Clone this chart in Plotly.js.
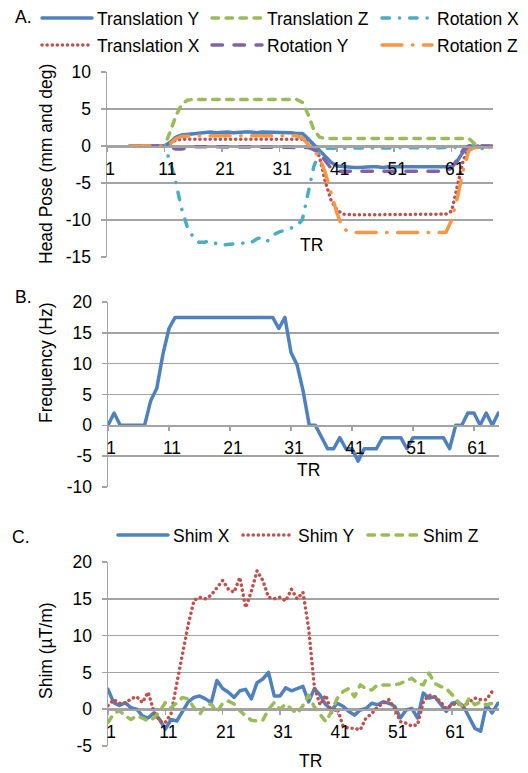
<!DOCTYPE html>
<html><head><meta charset="utf-8">
<script src="https://cdn.plot.ly/plotly-3.0.1.min.js"></script>
<style>html,body{margin:0;padding:0;background:#fff;} #chart{width:528px;height:773px;}
#chart path.js-line{stroke-linecap:round;stroke-linejoin:round;}</style>
</head><body><div id="chart"></div>
<script>
// ---------- data ----------
const TR = [1,2,3,4,5,6,7,8,9,10,11,12,13,14,15,16,17,18,19,20,21,22,23,24,25,26,27,28,29,30,
  31,32,33,34,35,36,37,38,39,40,41,42,43,44,45,46,47,48,49,50,51,52,53,54,55,56,57,58,59,60,
  61,62,63,64,65,66,67,68,69];
const tickTR = [1,11,21,31,41,51,61];
const tickLabels = ['1','11','21','31','41','51','61'];

// Panel A: head pose (TR 1..68)
const translationY = [null,null,null,null, 0,0,0,0,0,0,0,
  0.5,1.2,1.5,1.6,1.7,1.8,1.8,1.9,1.8,1.9,1.9,1.8,1.9,1.9,1.9,1.8,1.9,1.9,1.8,1.8,1.8,1.8,1.7,1.7,
  1.0,0.2,-0.6,-1.3,-2.2,-2.7,
  -2.8,-2.9,-2.9,-2.9,-2.8,-2.8,-2.8,-2.9,-2.8,-2.8,-2.8,-2.7,-2.8,-2.8,-2.8,-2.8,-2.8,-2.7,-2.8,-2.8,
  -2.0,-0.8,0,-0.1,-0.1,-0.1,-0.1];
const translationZ = [null,null,null,null, 0,0,0,0,0,0,0,
  1.9,4.1,5.6,6.2,
  6.3,6.3,6.3,6.3,6.3,6.3,6.3,6.3,6.3,6.3,6.3,6.3,6.3,6.3,6.3,6.3,6.3,6.3,6.3,
  5.9,4.3,2.2,1.2,
  1.0,1.0,1.0,1.0,1.0,1.0,1.0,1.0,1.0,1.0,1.0,1.0,1.0,1.0,1.0,1.0,1.0,1.0,1.0,1.0,1.0,1.0,1.0,1.0,1.0,1.0,
  0.3,0,0,0];
const rotationX = [null,null,null,null, 0,0,0,0,0,0,0,
  -2.1,-5.0,-8.5,-11.0,-12.3,-13.0,-13.0,-12.8,-13.2,-13.4,-13.3,-13.2,-13.2,-13.1,-13.1,-12.6,-12.3,-12.8,-12.0,-11.6,-11.4,-11.1,-10.8,
  -10.0,-6.3,-2.8,-0.8,
  -0.3,-0.3,-0.3,-0.3,-0.3,-0.3,-0.3,-0.3,-0.3,-0.3,-0.3,-0.3,-0.3,-0.3,-0.3,-0.3,-0.3,-0.3,-0.3,-0.3,-0.3,-0.3,-0.3,-0.3,-0.3,
  -0.2,0,-0.3,-0.5,-0.5];
const translationX = [null,null,null,null, 0,0,0,0,0,0,0,
  0.4,0.8,
  0.9,0.9,0.9,0.9,0.9,0.9,0.9,0.9,0.9,0.9,0.9,0.9,0.9,0.9,0.9,0.9,0.9,0.9,0.9,0.9,0.9,0.9,
  0.7,0.3,-1.5,-4.8,-7.3,-8.6,-9.2,
  -9.3,-9.3,-9.3,-9.3,-9.3,-9.3,-9.3,-9.3,
  -9.2,-9.2,-9.2,-9.2,-9.2,-9.2,-9.2,-9.2,-9.2,-9.2,
  -8.8,-5.5,-2.0,-0.2,
  0,0,0,0];
const rotationY = [null,null,null,null, 0,0,0,0,0,0,0,
  -0.2,-0.4,-0.4,-0.2,
  -0.1,-0.1,-0.1,-0.1,-0.1,-0.1,-0.1,-0.1,-0.1,-0.1,-0.1,-0.1,-0.1,-0.1,-0.1,-0.1,-0.1,-0.1,-0.1,-0.1,
  -0.2,-0.5,-1.0,-2.0,-3.0,
  -3.4,-3.4,-3.4,-3.4,-3.4,-3.4,-3.4,-3.4,-3.4,-3.4,-3.4,-3.4,-3.4,-3.4,-3.4,-3.4,-3.4,-3.4,-3.4,-3.4,
  -3.0,-1.7,-0.5,0,
  0,0,0,0];
const rotationZ = [null,null,null,null, 0,0,0,0,0,0,0,
  0.3,1.0,1.3,
  1.4,1.4,1.4,1.4,1.4,1.4,1.4,1.4,1.4,1.4,1.4,1.4,1.4,1.4,1.4,1.4,1.4,1.4,1.4,1.4,
  1.1,0.3,-0.6,-1.6,-3.6,-6.3,-9.0,-11.0,-11.6,
  -11.7,-11.7,-11.7,-11.7,-11.7,-11.7,-11.7,-11.7,-11.7,-11.7,-11.7,-11.7,-11.7,-11.7,-11.7,-11.7,-11.7,
  -10.0,-7.0,-3.3,-0.6,
  -0.2,-0.2,-0.2,-0.2];

// Panel B: frequency (TR 1..65)
const frequency = [0,2,0,0,0,0,0,4,6,11.5,15.7,17.5,
  17.5,17.5,17.5,17.5,17.5,17.5,17.5,17.5,17.5,17.5,17.5,17.5,17.5,17.5,17.5,17.5,
  15.7,17.5,11.8,9.8,5.5,0,0,-2,-3.8,-3.8,-2,-3.8,-3.8,-5.8,-3.8,-3.8,-3.8,-2,-2,-2,-2,-3.8,
  -2,-2,-2,-2,-2,-2,-3.8,0,0,2,2,0,2,0,2];

// Panel C: shim (TR 1..69)
const shimX = [2.7,0.9,0.5,0.9,0.2,0.0,-0.9,-1.2,-0.5,-1.4,-2.7,-1.4,-1.6,-0.2,1.0,1.6,1.8,1.4,0.9,3.9,
  2.8,2.3,1.6,2.5,2.7,1.4,3.6,4.1,5.0,1.8,1.8,2.9,2.5,2.8,3.1,1.0,2.8,1.9,0.6,-0.1,
  0.8,0.4,-0.3,-0.8,-0.1,0.1,0.8,0.6,1.0,0.8,0.4,-1.2,-0.1,0.1,-1.2,2.2,1.5,1.7,0.6,-0.3,
  0.8,1.0,0.4,-1.2,-2.6,-3.0,0.6,-0.5,0.8];
const shimY = [0.5,1.3,0.8,0.8,1.4,1.7,0.9,2.3,-0.3,-1.6,-1.8,-0.6,3.5,7.5,11.5,14.8,15.2,15.0,15.5,16.5,
  17.5,16.3,15.9,17.9,13.8,16.0,18.8,17.5,15.2,15.0,15.2,14.7,16.3,15.0,15.9,11.0,3.0,0.6,1.9,-0.5,
  0.1,-2.3,-2.6,-2.6,-2.8,-1.2,-0.6,0.3,0.8,1.3,0.1,-1.7,-1.9,-2.3,-2.1,1.0,1.9,1.7,1.0,0.1,
  0.6,0.8,0.3,1.0,1.5,1.3,1.3,2.4,null];
const shimZ = [-1.8,-0.6,-0.2,-0.9,-1.4,-0.9,-1.2,-1.6,-1.2,-0.3,0.9,0.2,0.9,1.6,1.4,0.2,-0.7,0.5,0.7,-0.4,
  0.8,1.1,0.7,-0.2,-0.9,-1.5,-1.6,-1.5,0.0,0.9,0.0,0.7,0.0,-0.6,0.5,1.9,0.3,-0.8,-1.7,-0.3,
  1.5,2.4,2.8,1.7,3.3,2.8,2.6,3.3,3.3,3.3,3.3,3.5,3.8,4.2,3.5,3.3,4.9,3.5,3.1,2.8,
  2.0,1.0,0.1,1.5,0.6,1.0,0.6,0.8,1.0];

// ---------- styling ----------
const W = 528, H = 773;
const fx = v => v / W, fy = v => 1 - v / H;
const GRID = '#a3a3a3';
const FONTFAM = '"Liberation Sans", Arial, Helvetica, sans-serif';
const FS = 17.5;
const FONT = {family: FONTFAM, size: FS, color: '#000'};
const LW = 3.5;
const C = {blue:'#4F81BD', red:'#C0504D', green:'#9BBB59', purple:'#8064A2', teal:'#4BACC6', orange:'#F79646'};
// dash patterns (round caps add ~LW to each dash)
const D = {dot:'0.1px,5px', dash:'6.5px,7.5px', longdash:'10.5px,11.5px',
  dashdot:'7.5px,10px,0.1px,10px', longdashdot:'20px,10.5px,0.5px,10.5px'};

function yAxis(dom, range, tickvals) {
  return {domain: dom, range: range, tickvals: tickvals, ticktext: tickvals.map(String),
    showgrid: true, gridcolor: GRID, gridwidth: 1.5, zeroline: false,
    showline: true, linecolor: GRID, linewidth: 1.5,
    ticks: 'outside', ticklen: 5, tickwidth: 1.5, tickcolor: GRID,
    ticklabelstandoff: 6, tickfont: FONT, fixedrange: true};
}
function xAxis(dom, range, yDom, yRange) {
  const pos = yDom[0] + (0 - yRange[0]) / (yRange[1] - yRange[0]) * (yDom[1] - yDom[0]);
  return {domain: dom, range: range, anchor: 'free', position: pos,
    tickvals: tickTR, ticktext: tickLabels, showgrid: false, zeroline: false,
    showline: true, linecolor: GRID, linewidth: 1.5,
    ticks: 'outside', ticklen: 4, tickwidth: 1.5, tickcolor: GRID,
    ticklabelstandoff: 2, ticklabelshift: 3, tickfont: FONT, fixedrange: true};
}

const domAx = [fx(107), fx(493)], domAy = [fy(257), fy(72)], rA = [-15, 10];
const domBx = [fx(108), fx(499)], domBy = [fy(487), fy(302)], rB = [-10, 20];
const domCx = [fx(108), fx(499)], domCy = [fy(746), fy(562)], rC = [-5, 20];

function tr(n) { return TR.slice(0, n); }

const traces = [
  {name:'Translation X', x: tr(68), y: translationX, xaxis:'x', yaxis:'y', legend:'legend2',
    line:{color:C.red, width:LW, dash:D.dot}},
  {name:'Translation Y', x: tr(68), y: translationY, xaxis:'x', yaxis:'y', legend:'legend',
    line:{color:C.blue, width:LW, dash:'solid'}},
  {name:'Translation Z', x: tr(68), y: translationZ, xaxis:'x', yaxis:'y', legend:'legend',
    line:{color:C.green, width:LW, dash:D.dash}},
  {name:'Rotation X', x: tr(68), y: rotationX, xaxis:'x', yaxis:'y', legend:'legend', legendwidth: 80,
    line:{color:C.teal, width:LW, dash:D.dashdot}},
  {name:'Rotation Y', x: tr(68), y: rotationY, xaxis:'x', yaxis:'y', legend:'legend2',
    line:{color:C.purple, width:LW, dash:D.longdash}},
  {name:'Rotation Z', x: tr(68), y: rotationZ, xaxis:'x', yaxis:'y', legend:'legend2', legendwidth: 80,
    line:{color:C.orange, width:LW, dash:D.longdashdot}},
  {name:'Frequency', x: tr(65), y: frequency, xaxis:'x2', yaxis:'y2', showlegend:false,
    line:{color:C.blue, width:LW}},
  {name:'Shim X', x: tr(69), y: shimX, xaxis:'x3', yaxis:'y3', legend:'legend3',
    line:{color:C.blue, width:LW, dash:'solid'}},
  {name:'Shim Y', x: tr(69), y: shimY, xaxis:'x3', yaxis:'y3', legend:'legend3',
    line:{color:C.red, width:LW, dash:D.dot}},
  {name:'Shim Z', x: tr(69), y: shimZ, xaxis:'x3', yaxis:'y3', legend:'legend3',
    line:{color:C.green, width:LW, dash:D.dash}}
].map(t => Object.assign({type:'scatter', mode:'lines', hoverinfo:'skip', connectgaps:false}, t));

function legendDef(x, y, ew) {
  return {orientation:'h', x: x, y: y, xanchor:'left', yanchor:'middle', xref:'paper', yref:'paper',
    entrywidth: ew, entrywidthmode:'pixels', itemwidth: 50, font: FONT,
    bgcolor:'rgba(0,0,0,0)', borderwidth:0, traceorder:'normal', itemclick:false, itemdoubleclick:false};
}

function ann(text, x, y, opts) {
  return Object.assign({text: text, x: fx(x), y: fy(y), xref:'paper', yref:'paper',
    showarrow:false, font: FONT, xanchor:'center', yanchor:'middle'}, opts || {});
}

const layout = {
  width: W, height: H, margin: {l:0, r:0, t:0, b:0},
  paper_bgcolor:'#fff', plot_bgcolor:'rgba(0,0,0,0)',
  font: FONT, showlegend: true, hovermode: false,
  xaxis: xAxis(domAx, [1, 68.2], domAy, rA),
  yaxis: Object.assign(yAxis(domAy, rA, [-15,-10,-5,0,5,10]), {anchor:'x'}),
  xaxis2: xAxis(domBx, [1, 65.1], domBy, rB),
  yaxis2: Object.assign(yAxis(domBy, rB, [-10,-5,0,5,10,15,20]), {anchor:'x2'}),
  xaxis3: xAxis(domCx, [1, 69.2], domCy, rC),
  yaxis3: Object.assign(yAxis(domCy, rC, [-5,0,5,10,15,20]), {anchor:'x3'}),
  legend: legendDef(fx(37), fy(18), 105),
  legend2: legendDef(fx(37), fy(45), 105),
  legend3: legendDef(fx(113), fy(535), 60),
  annotations: [
    ann('A.', 13, 17, {xanchor:'left'}),
    ann('B.', 13, 297, {xanchor:'left'}),
    ann('C.', 10, 537, {xanchor:'left'}),
    ann('Head Pose (mm and deg)', 46, 164, {textangle:-90}),
    ann('Frequency (Hz)', 46, 363, {textangle:-90}),
    ann('Shim (µT/m)', 46, 651, {textangle:-90}),
    ann('TR', 311, 245),
    ann('TR', 308, 470),
    ann('TR', 310, 761)
  ]
};

Plotly.newPlot('chart', traces, layout, {staticPlot:true, displayModeBar:false});
</script>
</body></html>
